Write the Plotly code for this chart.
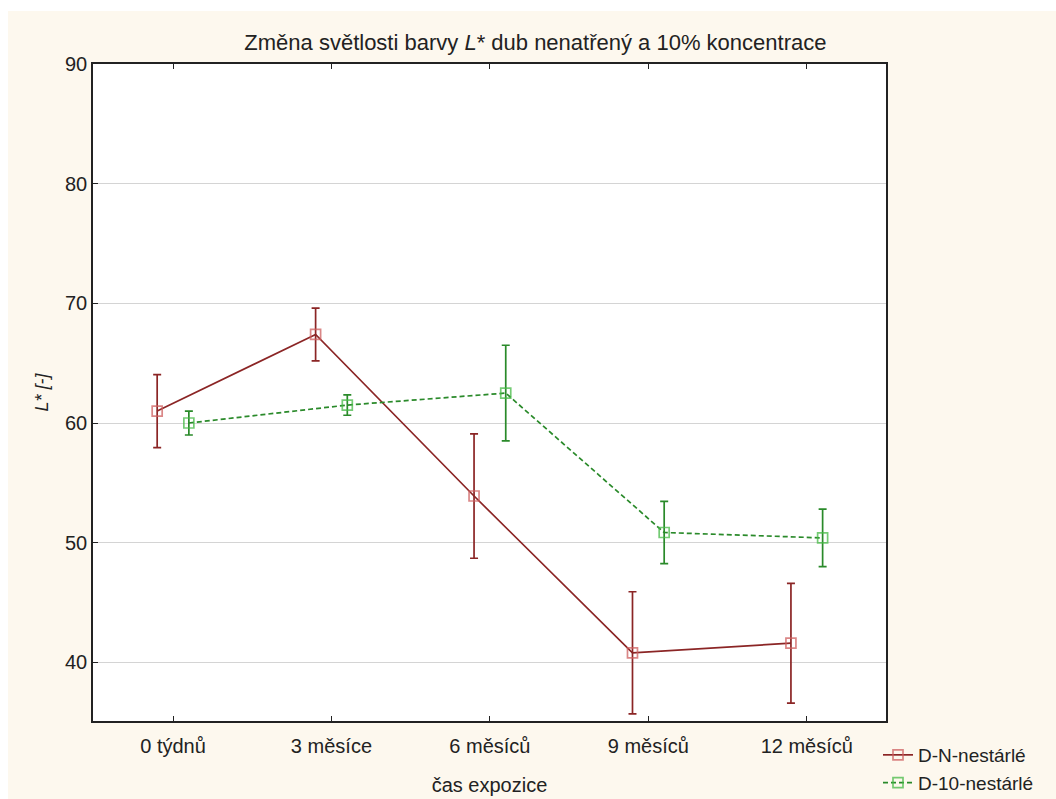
import plotly.graph_objects as go

# Exposure times (categories on the x axis)
categories = ["0 týdnů", "3 měsíce", "6 měsíců", "9 měsíců", "12 měsíců"]

# Mean L* values and confidence half-widths
dn_mean = [61.0, 67.4, 53.9, 40.8, 41.6]
dn_err = [3.05, 2.2, 5.2, 5.1, 5.0]

d10_mean = [60.0, 61.5, 62.5, 50.85, 50.4]
d10_err = [1.0, 0.85, 4.0, 2.6, 2.4]

series_names = ["D-N-nestárlé", "D-10-nestárlé"]

W, H = 1056, 799
ML, MR, MT, MB = 93, 170, 64, 78
PW, PH = W - ML - MR, H - MT - MB

# small horizontal dodge so the two series don't overlap
dodge = 0.1
x_idx = list(range(len(categories)))
x_dn = [i - dodge for i in x_idx]
x_d10 = [i + dodge for i in x_idx]

RED = "#8B2525"
GREEN = "#2A8A2A"
FONT = "Liberation Sans, Arial, sans-serif"

fig = go.Figure()
fig.add_trace(go.Scatter(
    x=x_dn, y=dn_mean, name=series_names[0], mode="lines+markers",
    line=dict(color=RED, width=1.7),
    marker=dict(symbol="square-open", size=10,
                color="rgba(205,95,95,0.75)",
                line=dict(width=1.7, color="rgba(205,95,95,0.75)")),
    error_y=dict(type="data", array=dn_err, visible=True,
                 color=RED, thickness=1.7, width=4),
))
fig.add_trace(go.Scatter(
    x=x_d10, y=d10_mean, name=series_names[1], mode="lines+markers",
    line=dict(color=GREEN, width=1.7, dash="5px,3px"),
    marker=dict(symbol="square-open", size=10,
                color="rgba(70,185,70,0.75)",
                line=dict(width=1.7, color="rgba(70,185,70,0.75)")),
    error_y=dict(type="data", array=d10_err, visible=True,
                 color=GREEN, thickness=1.7, width=4),
))

# white strips along the top and left page edges
def px_to_paper_x(px):
    return (px - ML) / PW

def px_to_paper_y(py):
    return (H - MB - py) / PH

shapes = [
    dict(type="rect", xref="paper", yref="paper", layer="above",
         x0=px_to_paper_x(-5), x1=px_to_paper_x(W + 5),
         y0=px_to_paper_y(11), y1=px_to_paper_y(-5),
         fillcolor="white", line=dict(width=0)),
    dict(type="rect", xref="paper", yref="paper", layer="above",
         x0=px_to_paper_x(-5), x1=px_to_paper_x(8),
         y0=px_to_paper_y(H + 5), y1=px_to_paper_y(-5),
         fillcolor="white", line=dict(width=0)),
]

fig.update_layout(
    width=W, height=H,
    margin=dict(l=ML, r=MR, t=MT, b=MB, autoexpand=False),
    paper_bgcolor="#FDF8EE",
    plot_bgcolor="white",
    font=dict(family=FONT, size=20, color="#222222"),
    title=dict(
        text="Změna světlosti barvy <i>L</i>* dub nenatřený a 10% koncentrace",
        x=0.507, xref="container", xanchor="center",
        y=1 - 42 / H, yref="container", yanchor="middle",
        font=dict(size=22, color="#222222"),
    ),
    showlegend=True,
    legend=dict(
        xref="container", yref="container",
        x=878 / W, xanchor="left",
        y=1 - 736 / H, yanchor="top",
        bgcolor="rgba(0,0,0,0)", borderwidth=0,
        font=dict(size=19, color="#222222"),
        itemwidth=30, tracegroupgap=0,
    ),
    shapes=shapes,
)

fig.update_xaxes(
    range=[-0.505, 4.5],
    tickmode="array", tickvals=x_idx, ticktext=categories,
    ticks="inside", ticklen=5, tickwidth=1, tickcolor="#222222",
    ticklabelstandoff=6,
    showline=True, linecolor="#222222", linewidth=1.5, mirror="ticks",
    showgrid=False, zeroline=False,
    title=dict(text="čas expozice", standoff=22, font=dict(size=20)),
)
fig.update_yaxes(
    range=[35.1, 90],
    tickmode="linear", tick0=40, dtick=10,
    ticks="inside", ticklen=5, tickwidth=1, tickcolor="#222222",
    showline=True, linecolor="#222222", linewidth=1.5, mirror=True,
    showgrid=True, gridcolor="#D4D4D4", gridwidth=1, zeroline=False,
    title=dict(text="<i>L* [-]</i>", standoff=12, font=dict(size=18)),
)

fig.write_html("out.html")
